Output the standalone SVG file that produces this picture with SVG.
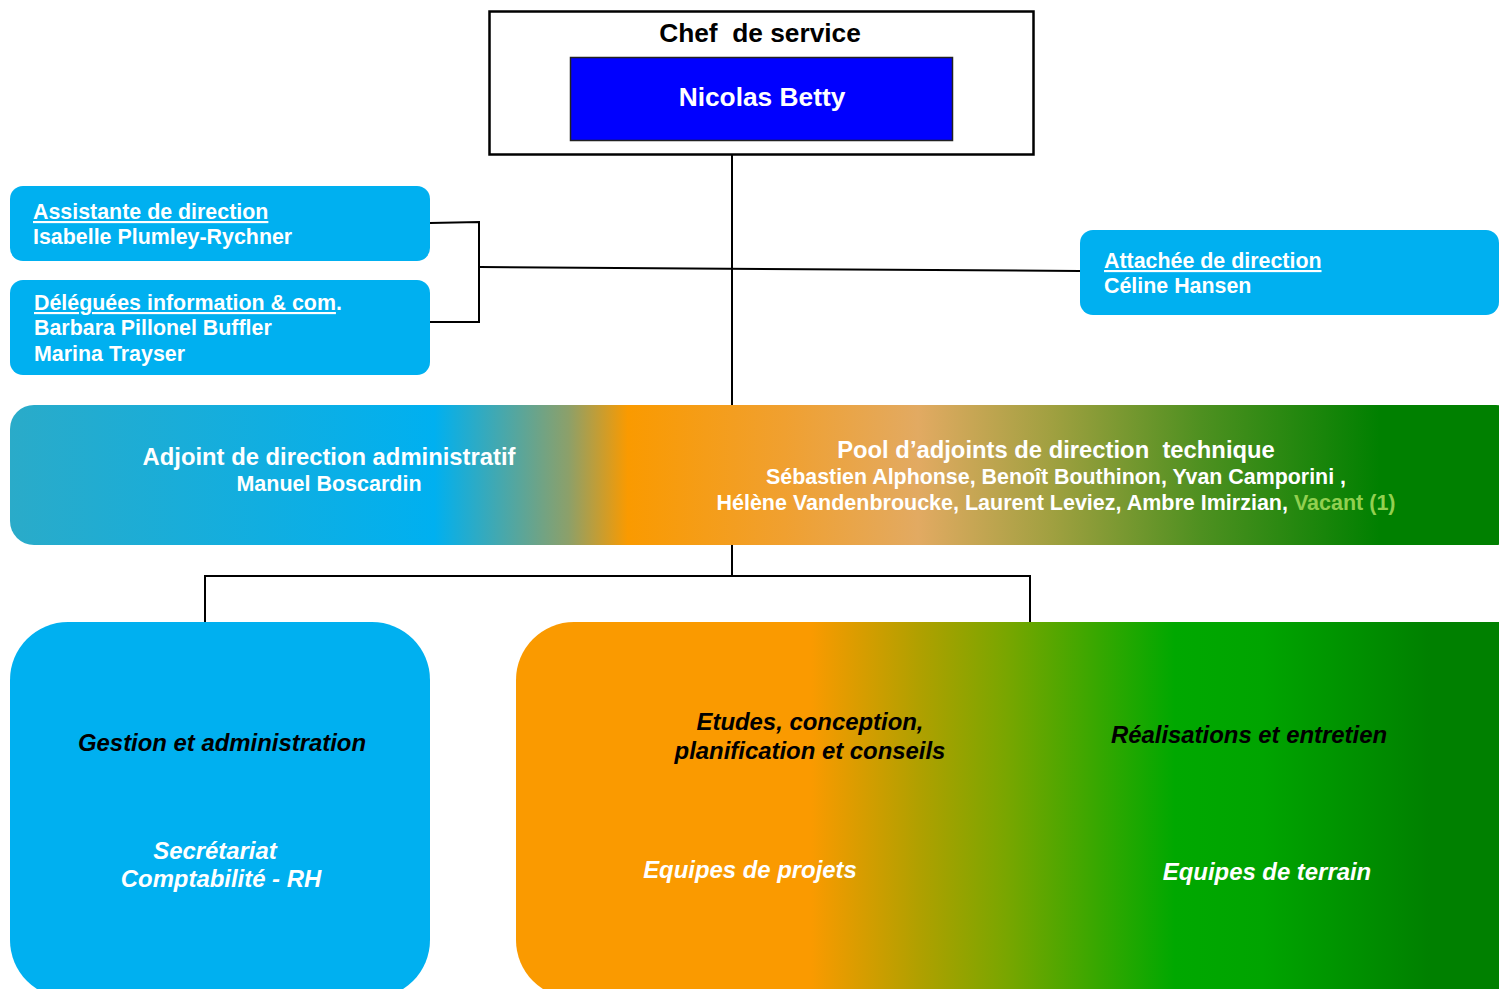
<svg xmlns="http://www.w3.org/2000/svg" width="1499" height="989" viewBox="0 0 1499 989">
<defs>
<style>
text{font-family:"Liberation Sans",Arial,sans-serif;font-weight:bold;white-space:pre}
.w{fill:#fff}
.k{fill:#000}
.side{fill:#00B0F0}
.ln{stroke:#000;stroke-width:2;fill:none}
.ul{text-decoration:underline}
.it{font-style:italic}
</style>
<linearGradient id="band" gradientUnits="userSpaceOnUse" x1="10" y1="0" x2="1499" y2="0">
<stop offset="0" stop-color="#2AABC9"/>
<stop offset="0.285" stop-color="#00B0F0"/>
<stop offset="0.375" stop-color="#8CA06A"/>
<stop offset="0.415" stop-color="#FA9A00"/>
<stop offset="0.52" stop-color="#F0A030"/>
<stop offset="0.61" stop-color="#E2AA62"/>
<stop offset="0.70" stop-color="#A0A040"/>
<stop offset="0.80" stop-color="#4E9020"/>
<stop offset="0.92" stop-color="#008000"/>
<stop offset="1" stop-color="#008000"/>
</linearGradient>
<linearGradient id="ops" gradientUnits="userSpaceOnUse" x1="516" y1="0" x2="1499" y2="0">
<stop offset="0" stop-color="#FA9A00"/>
<stop offset="0.30" stop-color="#FA9A00"/>
<stop offset="0.41" stop-color="#B0A000"/>
<stop offset="0.50" stop-color="#78A600"/>
<stop offset="0.67" stop-color="#00A800"/>
<stop offset="0.76" stop-color="#00A400"/>
<stop offset="0.93" stop-color="#008000"/>
<stop offset="1" stop-color="#008000"/>
</linearGradient>
</defs>

<g id="connectors">
<line class="ln" x1="732" y1="155" x2="732" y2="405"/>
<line class="ln" x1="480" y1="267" x2="1080" y2="271"/>
<polyline class="ln" points="430,223 479,222 479,322 430,322"/>
<line class="ln" x1="732" y1="545" x2="732" y2="576"/>
<polyline class="ln" points="205,622 205,576 1030,576 1030,622"/>
</g>

<g id="chef">
<rect x="489.5" y="11.5" width="544" height="143" fill="#fff" stroke="#000" stroke-width="2.5"/>
<text x="760" y="42" text-anchor="middle" class="k" font-size="26.3" xml:space="preserve">Chef  de service</text>
<rect x="570.5" y="57.5" width="382" height="83" fill="#0000FF" stroke="#222" stroke-width="1.5"/>
<text x="762" y="106" text-anchor="middle" class="w" font-size="26.3">Nicolas Betty</text>
</g>

<g id="assistante">
<rect class="side" x="10" y="186" width="420" height="75" rx="13"/>
<text x="33" y="219" class="w" font-size="21.4"><tspan class="ul">Assistante de direction</tspan></text>
<text x="33" y="244" class="w" font-size="21.4">Isabelle Plumley-Rychner</text>
</g>

<g id="deleguees">
<rect class="side" x="10" y="280" width="420" height="95" rx="13"/>
<text x="34" y="310" class="w" font-size="21.4"><tspan class="ul">Déléguées information &amp; com</tspan>.</text>
<text x="34" y="335" class="w" font-size="21.4">Barbara Pillonel Buffler</text>
<text x="34" y="361" class="w" font-size="21.4">Marina Trayser</text>
</g>

<g id="attachee">
<rect class="side" x="1080" y="230" width="419" height="85" rx="13"/>
<text x="1104" y="268" class="w" font-size="21.4"><tspan class="ul">Attachée de direction</tspan></text>
<text x="1104" y="293" class="w" font-size="21.4">Céline Hansen</text>
</g>

<g id="adjoints">
<rect x="10" y="405" width="1510" height="140" rx="24" fill="url(#band)"/>
<text x="329" y="465" text-anchor="middle" class="w" font-size="23.8">Adjoint de direction administratif</text>
<text x="329" y="491" text-anchor="middle" class="w" font-size="21.5">Manuel Boscardin</text>
<text x="1056" y="458" text-anchor="middle" class="w" font-size="23.8" xml:space="preserve">Pool d’adjoints de direction  technique</text>
<text x="1056" y="484" text-anchor="middle" class="w" font-size="21.4">Sébastien Alphonse, Benoît Bouthinon, Yvan Camporini ,</text>
<text x="1056" y="510" text-anchor="middle" class="w" font-size="21.5">Hélène Vandenbroucke, Laurent Leviez, Ambre Imirzian, <tspan fill="#92D050">Vacant (1)</tspan></text>
</g>

<g id="gestion">
<rect class="side" x="10" y="622" width="420" height="376" rx="58"/>
<text x="222" y="751" text-anchor="middle" class="k it" font-size="23.9">Gestion et administration</text>
<text x="215" y="859" text-anchor="middle" class="w it" font-size="23.9">Secrétariat</text>
<text x="221" y="887" text-anchor="middle" class="w it" font-size="23.9">Comptabilité - RH</text>
</g>

<g id="operations">
<rect x="516" y="622" width="1040" height="376" rx="58" fill="url(#ops)"/>
<text x="810" y="730" text-anchor="middle" class="k it" font-size="23.9">Etudes, conception,</text>
<text x="810" y="759" text-anchor="middle" class="k it" font-size="23.9">planification et conseils</text>
<text x="1249" y="743" text-anchor="middle" class="k it" font-size="23.9">Réalisations et entretien</text>
<text x="750" y="878" text-anchor="middle" class="w it" font-size="23.9">Equipes de projets</text>
<text x="1267" y="880" text-anchor="middle" class="w it" font-size="23.9">Equipes de terrain</text>
</g>
</svg>
